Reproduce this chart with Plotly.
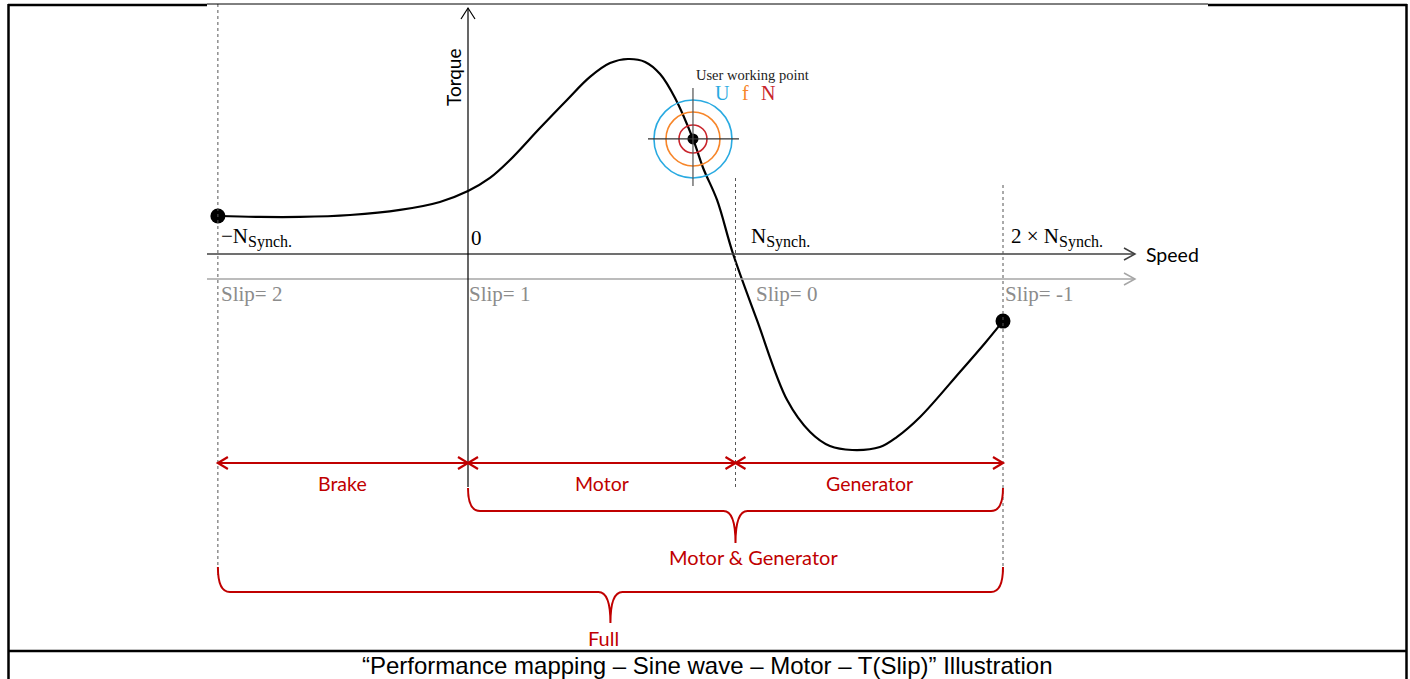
import plotly.graph_objects as go

# ---------------- data (speed in units of N_synch, torque normalised to peak) ----------------
speed = [-0.935, -0.778, -0.628, -0.441, -0.254, -0.105, 0.0, 0.082, 0.157, 0.269, 0.370,
         0.456, 0.531, 0.598, 0.662, 0.718, 0.774, 0.841, 0.879, 0.931, 0.991, 1.080,
         1.193, 1.279, 1.353, 1.436, 1.540, 1.604, 1.690, 1.839, 1.933, 2.0]
torque = [0.195, 0.190, 0.190, 0.200, 0.226, 0.267, 0.323, 0.390, 0.482, 0.646, 0.790,
          0.908, 0.979, 1.000, 0.985, 0.923, 0.800, 0.590, 0.441, 0.277, 0.0, -0.338,
          -0.749, -0.913, -0.985, -1.005, -0.990, -0.938, -0.836, -0.605, -0.456, -0.344]

landmarks = [-0.935, 0.0, 1.0, 2.0]            # -Nsynch, 0, Nsynch, 2*Nsynch
SUB = "<sub><span style='font-size:16px'>Synch.</span></sub>"
speed_labels = ["−N" + SUB, "0", "N" + SUB, "2 × N" + SUB]
slip_labels = ["Slip= 2", "Slip= 1", "Slip= 0", "Slip= -1"]
zone_labels = ["Brake", "Motor", "Generator"]
working_point = (0.841, 0.590)
wp_labels = ["U", "f", "N"]
wp_colors = ["#29aae1", "#f7862a", "#c9252c"]
wp_radii = [39, 27, 14]

W, H = 1410, 679
X0PX, XSCALE = 468.0, 267.5   # pixel of speed 0, pixels per N_synch
Y0PX, YSCALE = 254.0, 195.0   # pixel of torque 0, pixels per unit torque
XR = [-X0PX / XSCALE, (W - X0PX) / XSCALE]
YR = [(Y0PX - H) / YSCALE, Y0PX / YSCALE]

RED = "#c00000"
SERIF = "Liberation Serif"
SANS = "Lato"


def py(v):      # pixel row -> data y
    return (Y0PX - v) / YSCALE


def pxp(v):     # pixel column -> paper x
    return v / W


def pyp(v):     # pixel row -> paper y
    return 1 - v / H


fig = go.Figure()

fig.add_trace(go.Scatter(x=speed, y=torque, mode="lines",
                         line=dict(color="black", width=2.2, shape="spline", smoothing=1.0),
                         hoverinfo="skip", showlegend=False))
fig.add_trace(go.Scatter(x=[speed[0], speed[-1]], y=[torque[0], torque[-1]], mode="markers",
                         marker=dict(color="black", size=15), hoverinfo="skip", showlegend=False))

shapes = []
ann = []


def text(x, y, t, size, color, family, xref="paper", yref="paper", xanchor="center", **kw):
    ann.append(dict(x=x, y=y, xref=xref, yref=yref, text=t, xanchor=xanchor, yanchor="middle",
                    showarrow=False, font=dict(family=family, size=size, color=color), **kw))


def chevron(x, y, path, color, width):
    shapes.append(dict(type="path", xref="x", yref="y", xsizemode="pixel", ysizemode="pixel",
                       xanchor=x, yanchor=y, path=path,
                       line=dict(color=color, width=width)))


# working point circles & crosshair
wx, wy = working_point
for c, r in zip(wp_colors, wp_radii):
    shapes.append(dict(type="circle", xref="x", yref="y", xsizemode="pixel", ysizemode="pixel",
                       xanchor=wx, yanchor=wy, x0=-r, x1=r, y0=-r, y1=r,
                       line=dict(color=c, width=1.6)))
shapes.append(dict(type="line", xref="x", yref="y", xsizemode="pixel", ysizemode="pixel",
                   xanchor=wx, yanchor=wy, x0=-45, x1=46, y0=0, y1=0,
                   line=dict(color="#303030", width=1.2)))
shapes.append(dict(type="line", xref="x", yref="y", xsizemode="pixel", ysizemode="pixel",
                   xanchor=wx, yanchor=wy, x0=0, x1=0, y0=-47, y1=51,
                   line=dict(color="#505050", width=1.2)))

# speed axis & slip axis
shapes.append(dict(type="line", xref="paper", yref="y", x0=pxp(207), x1=pxp(1135), y0=0, y1=0,
                   line=dict(color="#404040", width=1.5)))
chevron(XR[0] + 1135 / XSCALE, 0, "M -11 6 L 0 0 L -11 -6", "#404040", 1.5)
slip_y = py(279)
shapes.append(dict(type="line", xref="paper", yref="y", x0=pxp(207), x1=pxp(1135), y0=slip_y, y1=slip_y,
                   line=dict(color="#a6a6a6", width=1.5)))
chevron(XR[0] + 1135 / XSCALE, slip_y, "M -11 6 L 0 0 L -11 -6", "#a6a6a6", 1.5)

# torque axis
shapes.append(dict(type="line", xref="x", yref="y", x0=0, x1=0, y0=py(487), y1=py(8),
                   line=dict(color="black", width=1.2)))
chevron(0, py(8), "M -7 -11 L 0 0 L 7 -11", "black", 1.2)

# dashed guides
dash_spans = [(4, 575), (None, None), (178, 487), (185, 575)]
for lm, (a, b) in zip(landmarks, dash_spans):
    if a is None:
        continue
    shapes.append(dict(type="line", xref="x", yref="y", x0=lm, x1=lm, y0=py(a), y1=py(b),
                       line=dict(color="#555555", width=1, dash="3px,3px")))

# red double arrows
ay = py(463)
for i in range(3):
    xa, xb = landmarks[i], landmarks[i + 1]
    shapes.append(dict(type="line", xref="x", yref="y", x0=xa, x1=xb, y0=ay, y1=ay,
                       line=dict(color=RED, width=2.2)))
    chevron(xa, ay, "M 10 6 L 0 0 L 10 -6", RED, 2.2)
    chevron(xb, ay, "M -10 6 L 0 0 L -10 -6", RED, 2.2)
    text((xa + xb) / 2, pyp(483), zone_labels[i], 19.5, RED, SANS, xref="x")


# braces
def brace(xa, xb, ptop, ph, ptip):
    r = 12 / XSCALE
    xc = (xa + xb) / 2
    yt, yh, yp = py(ptop), py(ph), py(ptip)
    path = (f"M {xa},{yt} Q {xa},{yh} {xa + r},{yh} L {xc - r},{yh} "
            f"Q {xc},{yh} {xc},{yp} Q {xc},{yh} {xc + r},{yh} "
            f"L {xb - r},{yh} Q {xb},{yh} {xb},{yt}")
    shapes.append(dict(type="path", xref="x", yref="y", path=path,
                       line=dict(color=RED, width=2)))


brace(landmarks[1], landmarks[3], 488, 511, 543)
brace(landmarks[0], landmarks[3], 567, 592, 623)
text(pxp(753), pyp(557), "Motor & Generator", 20, RED, SANS)
text(pxp(603), pyp(638), "Full", 20, RED, SANS)

# speed landmark labels & slip labels
lab_off = [1, 1, 13, 6]
slip_off = [1, -1, 18, 0]
for lm, t, s, o1, o2 in zip(landmarks, speed_labels, slip_labels, lab_off, slip_off):
    text(lm, pyp(238), t, 21, "black", SERIF, xref="x", xanchor="left", xshift=o1)
    text(lm, pyp(294), s, 21, "#8c8c8c", SERIF, xref="x", xanchor="left", xshift=o2)

text(pxp(1144), 0, "Speed", 19.5, "black", SANS, yref="y", xanchor="left")
text(pxp(453), pyp(77), "Torque", 19, "black", SANS, textangle=-90)

# working point labels
text(pxp(694), pyp(75), "User working point", 14.5, "#222222", SERIF, xanchor="left")
for t, c, xp in zip(wp_labels, wp_colors, [722, 745, 768]):
    text(pxp(xp), pyp(93), t, 20, c, SERIF)

fig.add_trace(go.Scatter(x=[wx], y=[wy], mode="markers", marker=dict(color="black", size=11),
                         hoverinfo="skip", showlegend=False))


# frame
def pline(x0, y0, x1, y1, w):
    shapes.append(dict(type="line", xref="paper", yref="paper", x0=pxp(x0), x1=pxp(x1),
                       y0=pyp(y0), y1=pyp(y1), line=dict(color="black", width=w)))


pline(8.5, 4, 8.5, 679, 2.5)
pline(1406.5, 4, 1406.5, 679, 2.5)
pline(8, 5, 207, 5, 2.5)
pline(207, 4, 1208, 4, 1)
pline(1208, 5, 1407, 5, 2.5)
pline(8, 651, 1407, 651, 2.5)

text(pxp(708), pyp(665), "“Performance mapping – Sine wave – Motor – T(Slip)” Illustration",
     24, "black", "Liberation Sans")

fig.update_layout(width=W, height=H, autosize=False, margin=dict(l=0, r=0, t=0, b=0),
                  paper_bgcolor="white", plot_bgcolor="white", showlegend=False,
                  shapes=shapes, annotations=ann,
                  xaxis=dict(range=XR, visible=False, fixedrange=True),
                  yaxis=dict(range=YR, visible=False, fixedrange=True))

fig.write_html("out.html", config={"displayModeBar": False},
               post_script="document.body.style.margin='0px';document.body.style.overflow='hidden';")
